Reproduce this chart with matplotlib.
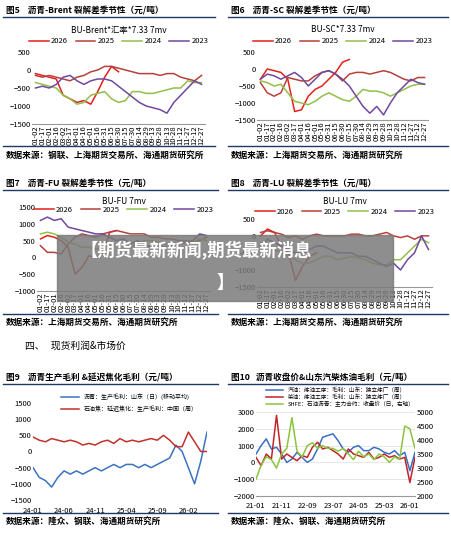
import matplotlib
matplotlib.use("Agg")
import matplotlib.pyplot as plt
from matplotlib.patches import Rectangle

plt.rcParams['font.family'] = ['Noto Sans CJK SC', 'DejaVu Sans']

W, H = 451, 537

# seasonal x labels
season_ticks = ["01-02", "01-17", "02-01", "02-16", "03-02", "03-17", "04-01", "04-16", "05-01",
                "05-16", "05-31", "06-15", "06-30", "07-15", "07-30", "08-14", "08-29", "09-13",
                "09-28", "10-13", "10-28", "11-12", "11-27", "12-12", "12-27"]
years = ["2026", "2025", "2024", "2023"]

brent_2026 = [-100, -150, -200, -250, -700, -800, -900, -850, -950, -600, -200, 100, -50]
brent_2025 = [-150, -200, -150, -200, -250, -300, -200, -150, -50, 0, 100, 100, 50, 0, -50,
              -100, -100, -100, -150, -100, -100, -200, -250, -300, -150]
brent_2024 = [-350, -400, -450, -500, -700, -800, -950, -900, -700, -650, -600, -800, -900,
              -850, -600, -600, -650, -650, -600, -550, -500, -500, -300, -350, -350]
brent_2023 = [-500, -450, -500, -400, -200, -150, -300, -400, -300, -250, -250, -300, -450,
              -600, -750, -900, -1000, -1050, -1100, -1200, -900, -700, -500, -300, -400]

sc_2026 = [-300, 0, -50, -100, -300, -1250, -1200, -800, -600, -500, -300, -100, 200, 280]
sc_2025 = [-400, -700, -800, -700, -250, -300, -350, -350, -200, -100, -50, -150, -350, -150,
           -100, -100, -150, -100, -50, -100, -200, -300, -350, -250, -250]
sc_2024 = [-350, -400, -500, -450, -700, -950, -1000, -1050, -950, -800, -700, -800, -900,
           -950, -800, -600, -650, -650, -700, -800, -700, -600, -500, -450, -450]
sc_2023 = [-300, -150, -200, -300, -200, -100, -250, -500, -300, -100, -50, -150, -300, -500,
           -800, -1100, -1300, -1100, -1350, -1000, -700, -500, -300, -400, -450]

fu_2026 = [550, 650, 600, 500, 300, -500, -300, 50, 0, 100, 750, 800]
fu_2025 = [350, 150, 150, 100, 400, 600, 700, 650, 600, 700, 750, 800, 750, 700, 700, 700,
           600, 600, 550, 550, 500, 500, 450, 500, 600]
fu_2024 = [700, 750, 700, 600, 450, 400, 300, 300, 250, 300, 400, 400, 350, 300, 400, 500,
           500, 450, 400, 400, 450, 450, 450, 550, 500]
fu_2023 = [1100, 1200, 1100, 1150, 900, 850, 800, 750, 700, 700, 600, 500, 550, 400, 500,
           400, 300, 300, 300, 350, 400, 450, 500, 700, 650]

lu_2026 = [0, 200, 100, -300, -500, -1300, -900, -600, -500]
lu_2025 = [100, 150, 100, 50, -50, 0, -100, 0, 50, 0, 0, 0, 0, 50, 50, 0, 0, 50, 100, 0,
           -50, 0, -100, 0, 0]
lu_2024 = [-200, -300, -400, -500, -600, -700, -800, -800, -700, -600, -600, -700, -650,
           -600, -650, -700, -800, -850, -850, -700, -700, -500, -300, -100, -200]
lu_2023 = [-300, -100, -200, -300, -400, -500, -500, -400, -300, -300, -400, -500, -500,
           -500, -600, -600, -700, -800, -900, -800, -1000, -700, -500, 0, -400]

# fig 9: monthly 24-01 .. 26-05
m9_ticks = ["24-01", "24-06", "24-11", "25-04", "25-09", "26-02"]
bitumen_margin = [-500, -800, -900, -1100, -800, -600, -700, -600, -700, -600, -500, -600,
                  -500, -400, -500, -400, -400, -500, -400, -500, -400, -300, -200, 200, 0,
                  -500, -1000, -300, 600]
coking_margin = [450, 350, 300, 400, 350, 300, 350, 300, 200, 250, 200, 300, 350, 250, 400,
                 300, 350, 300, 350, 400, 350, 500, 350, 150, 150, 600, 300, 0, 0]

# fig 10: bimonthly 21-01 .. 26-03
m10_ticks = ["21-01", "21-11", "22-09", "23-07", "24-05", "25-03", "26-01"]
gasoline = [500, 1000, 1400, 800, 900, 500, 0, 200, 600, 300, 0, 200, 800, 1500, 1600, 1700,
            1300, 800, 600, 900, 1000, 700, 700, 900, 800, 600, 500, 700, 400, 600, -500, 600]
diesel = [300, -200, 500, 200, 2800, 200, 500, 300, 100, 400, 300, 900, 1200, 800, 900, 700,
          500, 200, 800, 500, 400, 300, 600, 200, 300, 500, 300, 400, 200, 300, -1200, 300]
bu_close = [2600, 3100, 3400, 3300, 3000, 3500, 3700, 4800, 3600, 3400, 3800, 3900, 3700,
            3800, 3700, 3700, 3600, 3700, 3500, 3300, 3600, 3400, 3500, 3300, 3500, 3400,
            3200, 3400, 3300, 4500, 4400, 3700]

year_colors = ["#e3201b", "#b8403a", "#92bf4a", "#7048a0"]
FS = 5.5

fig = plt.figure(figsize=(W / 100, H / 100), dpi=100)


def ax_at(x0, y0, x1, y1):
    return fig.add_axes([x0 / W, 1 - y1 / H, (x1 - x0) / W, (y1 - y0) / H])


def ftext(x, y, s, **kw):
    kw.setdefault("fontsize", 6)
    kw.setdefault("va", "center")
    fig.text(x / W, 1 - y / H, s, **kw)


def hline(x0, x1, y, lw=1.0, color="#1f3864"):
    fig.add_artist(plt.Line2D([x0 / W, x1 / W], [1 - y / H, 1 - y / H], color=color, lw=lw))


def panel_frame(x0, x1, ytitle, yline, ybot, ysrc, title, src):
    ftext(x0 + 3, ytitle, title, fontsize=6.2, fontweight="bold")
    hline(x0, x1, yline)
    hline(x0, x1, ybot)
    ftext(x0 + 3, ysrc, src, fontsize=6.2, fontweight="bold")


def style(ax):
    for s in ["top", "right", "left"]:
        ax.spines[s].set_visible(False)
    ax.spines["bottom"].set_color("#999999")
    ax.tick_params(labelsize=FS, length=0, pad=1)


def seasonal(box, series, title, ylim, yticks, ytitle, yleg):
    ax = ax_at(*box)
    for s, c, lab in zip(series, year_colors, years):
        ax.plot(range(len(s)), s, color=c, lw=1.1, label=lab)
    ax.set_ylim(*ylim)
    ax.set_yticks(yticks)
    ax.set_xlim(-0.5, len(season_ticks) - 0.5)
    ax.set_xticks(range(len(season_ticks)))
    ax.set_xticklabels(season_ticks, rotation=90, fontsize=4.6)
    style(ax)
    x0, x1 = box[0], box[2]
    ftext((x0 + x1) / 2, ytitle, title, fontsize=6, ha="center")
    ax.legend(loc="lower center", bbox_to_anchor=(0.5, (H - yleg - (H - box[3])) / (box[3] - box[1]) - 0.06),
              ncol=4, frameon=False, fontsize=FS, handlelength=2.6, columnspacing=1.0,
              handletextpad=0.3)
    return ax


src1 = "数据来源：钢联、上海期货交易所、海通期货研究所"
src2 = "数据来源：上海期货交易所、海通期货研究所"

# row 1
panel_frame(3, 215, 10, 17, 146, 155, "图5    沥青-Brent 裂解差季节性（元/吨）", src1)
panel_frame(228, 448, 10, 17, 146, 155, "图6    沥青-SC 裂解差季节性（元/吨）", src2)
seasonal((32, 52, 205, 124), [brent_2026, brent_2025, brent_2024, brent_2023],
         "BU-Brent*汇率*7.33 7mv", (-1500, 500), [-1500, -1000, -500, 0, 500], 30, 48)
seasonal((257, 52, 428, 120), [sc_2026, sc_2025, sc_2024, sc_2023],
         "BU-SC*7.33 7mv", (-1500, 500), [-1500, -1000, -500, 0, 500], 30, 48)

# row 2
panel_frame(3, 218, 183, 190, 314, 322, "图7    沥青-FU 裂解差季节性（元/吨）", src2)
panel_frame(228, 448, 183, 190, 314, 322, "图8    沥青-LU 裂解差季节性（元/吨）", src2)
seasonal((37, 207, 210, 291), [fu_2026, fu_2025, fu_2024, fu_2023],
         "BU-FU 7mv", (-1000, 1500), [-1000, -500, 0, 500, 1000, 1500], 202, 216)
seasonal((257, 212, 432, 287), [lu_2026, lu_2025, lu_2024, lu_2023],
         "BU-LU 7mv", (-1500, 700), [-1500, -1000, -500, 0, 500], 202, 218)
ftext(25, 346, "四、   现货利润&市场价", fontsize=7)

# row 3
panel_frame(3, 218, 377, 384, 513, 521, "图9    沥青生产毛利 &延迟焦化毛利（元/吨）", "数据来源：隆众、钢联、海通期货研究所")
panel_frame(228, 448, 377, 384, 513, 521, "图10   沥青收盘价&山东汽柴炼油毛利（元/吨）", "数据来源：隆众、钢联、海通期货研究所")

ax9 = ax_at(33, 403, 207, 500)
ax9.plot(range(len(bitumen_margin)), bitumen_margin, color="#3b73c1", lw=1.1,
         label="沥青：生产毛利：山东（日）(移动平均)")
ax9.plot(range(len(coking_margin)), coking_margin, color="#c0312b", lw=1.1,
         label="石油焦：延迟焦化：生产毛利：中国（周）")
ax9.set_ylim(-1500, 1500)
ax9.set_yticks([-1500, -1000, -500, 0, 500, 1000, 1500])
ax9.set_xlim(0, len(bitumen_margin) - 1)
ax9.set_xticks(range(0, 26, 5))
ax9.set_xticklabels(m9_ticks)
style(ax9)
ax9.spines["bottom"].set_visible(False)
ax9.tick_params(axis="x", pad=5)
ax9.legend(loc="center left", bbox_to_anchor=(0.15, 1.0), frameon=False, fontsize=4.3,
           handlelength=3, labelspacing=0.9, borderaxespad=0)

ax10 = ax_at(256, 412, 415, 496)
ax10.plot(range(len(gasoline)), gasoline, color="#3b6fc4", lw=1.1, label="汽油：炼油工序：毛利：山东：独立炼厂（周）")
ax10.plot(range(len(diesel)), diesel, color="#c0242a", lw=1.1, label="柴油：炼油工序：毛利：山东：独立炼厂（周）")
ax10.set_ylim(-2000, 3000)
ax10.set_yticks([-2000, -1000, 0, 1000, 2000, 3000])
ax10.set_xlim(0, len(gasoline) - 1)
ax10.set_xticks(range(0, 31, 5))
ax10.set_xticklabels(m10_ticks)
ax10.grid(axis="y", color="#dddddd", lw=0.5)
style(ax10)
ax10.tick_params(axis="x", pad=4)
ax10b = ax10.twinx()
ax10b.plot(range(len(bu_close)), bu_close, color="#8cc43c", lw=1.1, label="SHFE：石油沥青：主力合约：收盘价（日，右轴）")
ax10b.set_ylim(2000, 5000)
ax10b.set_yticks([2000, 2500, 3000, 3500, 4000, 4500, 5000])
for s in ["top", "right", "left", "bottom"]:
    ax10b.spines[s].set_visible(False)
ax10b.tick_params(labelsize=FS, length=0, pad=1)
h1, l1 = ax10.get_legend_handles_labels()
h2, l2 = ax10b.get_legend_handles_labels()
ax10b.legend(h1 + h2, l1 + l2, loc="lower left", bbox_to_anchor=(0.05, 1.03), frameon=False,
             fontsize=4.1, handlelength=3, labelspacing=0.15, borderaxespad=0)

# banner overlay
fig.add_artist(Rectangle((57 / W, 1 - 301 / H), 336 / W, 66 / H, color="#7a7a7a", alpha=0.85))
ftext(80, 250, "【期货最新新闻,期货最新消息", fontsize=12.5, color="white", fontweight="bold")
ftext(217, 283, "】", fontsize=12.5, color="white", fontweight="bold")

fig.savefig("out.png", dpi=100)
